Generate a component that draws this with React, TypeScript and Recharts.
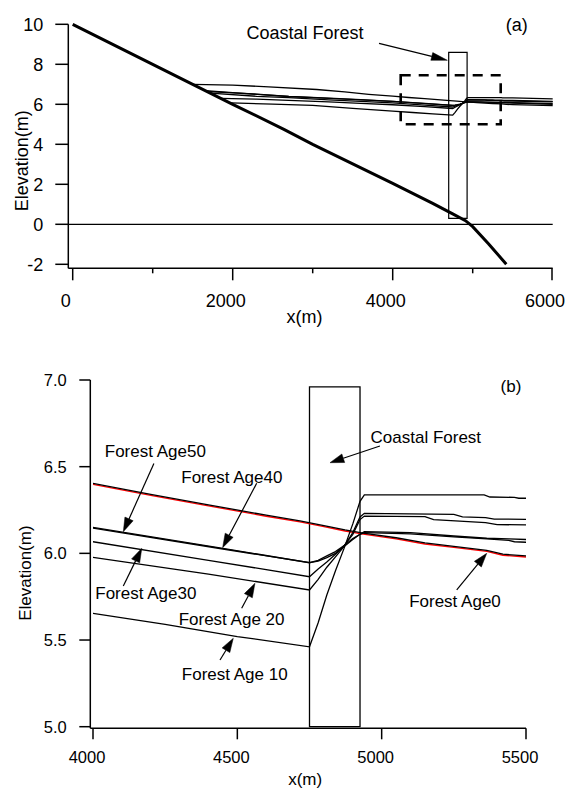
import React from "react";
import {
  LineChart,
  Line,
  XAxis,
  YAxis,
  ReferenceLine,
  ReferenceArea,
  ReferenceDot
} from "recharts";

type Pt = [number, number];

const FONT = '"Liberation Sans", Arial, Helvetica, sans-serif';

// axis ticks
const ticksAY = [-2, 0, 2, 4, 6, 8, 10];
const ticksAX = [0, 1000, 2000, 3000, 4000, 5000, 6000];
const majorAX = [0, 2000, 4000, 6000];
const ticksBY = [5, 5.5, 6, 6.5, 7];
const ticksBX = [4000, 4500, 5000, 5500];

// initial beach / bed profile
const bathymetry: Pt[] = [
  [0, 10], [1000, 8.0], [2000, 6.0], [2640, 4.75], [3000, 4.0], [4000, 2.05],
  [4500, 1.05], [4750, 0.52], [4910, 0.18], [5000, -0.12], [5200, -0.98], [5420, -2.0]
];

// water surface profiles for each forest age
const age0: Pt[] = [
  [1500, 7.0], [2000, 6.96], [2450, 6.87], [3050, 6.74], [3400, 6.62], [3700, 6.5],
  [4000, 6.404], [4200, 6.34], [4400, 6.28], [4600, 6.22], [4717, 6.187], [4800, 6.16],
  [4873, 6.135], [4936, 6.117], [5050, 6.09], [5150, 6.06], [5250, 6.04], [5364, 6.017],
  [5420, 5.995], [5500, 5.985], [6000, 5.93]
];
const age0Red: Pt[] = [
  [4000, 6.398], [4200, 6.334], [4400, 6.274], [4600, 6.214], [4717, 6.181], [4800, 6.154],
  [4873, 6.129], [4936, 6.111], [5050, 6.084], [5150, 6.054], [5250, 6.034], [5364, 6.011],
  [5420, 5.989], [5500, 5.979]
];
const age10: Pt[] = [
  [1980, 6.07], [2500, 6.01], [3000, 5.95], [3500, 5.8], [4000, 5.654], [4250, 5.59],
  [4500, 5.52], [4750, 5.461], [4780, 5.6], [4810, 5.76], [4840, 5.9], [4870, 6.03],
  [4900, 6.17], [4925, 6.3], [4940, 6.337], [5355, 6.337], [5375, 6.325], [5460, 6.323],
  [5475, 6.318], [5500, 6.318], [6000, 6.27]
];
const age20: Pt[] = [
  [1850, 6.3], [2300, 6.26], [2700, 6.2], [3200, 6.12], [3600, 6.05], [4000, 5.977],
  [4400, 5.88], [4750, 5.789], [4780, 5.85], [4810, 5.92], [4840, 5.98], [4870, 6.04],
  [4900, 6.12], [4925, 6.21], [4940, 6.231], [5250, 6.225], [5280, 6.21], [5360, 6.206],
  [5390, 6.198], [5500, 6.196], [6000, 6.15]
];
const age30: Pt[] = [
  [1720, 6.56], [2300, 6.4], [2700, 6.33], [3200, 6.22], [3600, 6.15], [4000, 6.067],
  [4400, 5.96], [4750, 5.865], [4780, 5.91], [4810, 5.95], [4840, 5.995], [4870, 6.045],
  [4900, 6.11], [4925, 6.195], [4940, 6.215], [5150, 6.212], [5180, 6.195], [5360, 6.177],
  [5400, 6.166], [5500, 6.164], [6000, 6.12]
];
const age40: Pt[] = [
  [1680, 6.64], [2000, 6.57], [2300, 6.5], [2700, 6.39], [3200, 6.3], [3600, 6.22],
  [4000, 6.145], [4450, 6.025], [4750, 5.946], [4780, 5.955], [4810, 5.975], [4840, 6.0],
  [4870, 6.04], [4900, 6.08], [4925, 6.11], [4940, 6.125], [5100, 6.12], [5250, 6.1],
  [5364, 6.087], [5440, 6.083], [5500, 6.08], [6000, 6.03]
];
const age50: Pt[] = [
  [1660, 6.68], [2000, 6.58], [2300, 6.51], [2700, 6.4], [3200, 6.31], [3600, 6.23],
  [4000, 6.15], [4450, 6.029], [4750, 5.946], [4780, 5.96], [4810, 5.985], [4840, 6.01],
  [4870, 6.045], [4900, 6.085], [4925, 6.11], [4940, 6.119], [5100, 6.112], [5250, 6.095],
  [5364, 6.083], [5440, 6.075], [5460, 6.067], [5500, 6.064], [6000, 6.0]
];

const profiles = [age0, age10, age20, age30, age40, age50];

// annotations (data coordinates)
const forestA = { x1: 4700, x2: 4930, y1: 0.3, y2: 8.6 };
const zoomBoxA = { x1: 4100, x2: 5350, y1: 5.0, y2: 7.45 };
const forestB = { x1: 4750, x2: 4925, y1: 5.0, y2: 6.96 };

const textsA = [
  { text: "Coastal Forest", x: 2904, y: 9.57 },
  { text: "(a)", x: 5550, y: 10.0 }
];
const arrowsA: { from: Pt; to: Pt }[] = [{ from: [3829, 9.05], to: [4683, 8.2] }];

const textsB = [
  { text: "Coastal Forest", x: 5153, y: 6.671 },
  { text: "Forest Age50", x: 4216, y: 6.593 },
  { text: "Forest Age40", x: 4481, y: 6.44 },
  { text: "Forest Age30", x: 4183, y: 5.771 },
  { text: "Forest Age 20", x: 4480, y: 5.623 },
  { text: "Forest Age 10", x: 4491, y: 5.305 },
  { text: "Forest Age0", x: 5254, y: 5.726 },
  { text: "(b)", x: 5448, y: 6.967 }
];
const arrowsB: { from: Pt; to: Pt }[] = [
  { from: [4994, 6.619], to: [4821, 6.523] },
  { from: [4211, 6.519], to: [4105, 6.125] },
  { from: [4567, 6.404], to: [4449, 6.033] },
  { from: [4105, 5.812], to: [4169, 6.029] },
  { from: [4515, 5.683], to: [4561, 5.827] },
  { from: [4440, 5.385], to: [4486, 5.51] },
  { from: [5260, 5.789], to: [5364, 6.0] }
];

const toRows = (pts: Pt[]) => pts.map(([x, y]) => ({ x, y }));

function Arrow(p: any) {
  const { x1, y1, x2, y2, head, half } = p;
  if (x1 == null || x2 == null) return null;
  const ang = Math.atan2(y2 - y1, x2 - x1);
  const bx = x2 - head * Math.cos(ang);
  const by = y2 - head * Math.sin(ang);
  const nx = -Math.sin(ang) * half;
  const ny = Math.cos(ang) * half;
  return (
    <g>
      <line x1={x1} y1={y1} x2={bx} y2={by} stroke="#000" strokeWidth={1.2} />
      <polygon
        points={`${x2},${y2} ${bx + nx},${by + ny} ${bx - nx},${by - ny}`}
        fill="#000"
        stroke="#000"
        strokeWidth={0.5}
      />
    </g>
  );
}

function TickA(p: any) {
  const { x, y, payload } = p;
  const major = majorAX.includes(payload.value);
  return (
    <g>
      <line x1={x} y1={y} x2={x} y2={y + (major ? 12 : 5)} stroke="#000" strokeWidth={1.5} />
      {major && (
        <text x={x - 7} y={y + 26} dy="0.71em" textAnchor="middle" fontSize={18} fill="#000">
          {payload.value}
        </text>
      )}
    </g>
  );
}

const axisStroke = { stroke: "#000", strokeWidth: 1.5 };

function PanelA() {
  return (
    <LineChart width={568} height={335} margin={{ top: 24.3, right: 15.3, bottom: 6.7, left: 8.3 }}>
      <XAxis
        type="number"
        dataKey="x"
        domain={[0, 6000]}
        ticks={ticksAX}
        padding={{ left: 4.4, right: 0 }}
        tickSize={0}
        tickMargin={0}
        tickLine={false}
        tick={<TickA />}
        axisLine={axisStroke}
        height={60}
        label={{ value: "x(m)", position: "insideBottom", offset: 5, dx: -6, fontSize: 18, fill: "#000" }}
      />
      <YAxis
        type="number"
        domain={[-2, 10]}
        ticks={ticksAY}
        padding={{ top: 0, bottom: 4 }}
        width={60}
        tickSize={13}
        tickMargin={12}
        tickLine={axisStroke}
        axisLine={axisStroke}
        tick={{ fill: "#000", fontSize: 18 }}
        label={{
          value: "Elevation(m)",
          angle: -90,
          position: "insideLeft",
          offset: 13.4,
          dy: 14.5,
          fontSize: 18,
          fill: "#000",
          style: { textAnchor: "middle" }
        }}
      />
      <ReferenceLine y={0} stroke="#000" strokeWidth={1.2} />
      <ReferenceArea {...forestA} fill="none" stroke="#000" strokeWidth={1.2} ifOverflow="visible" />
      <ReferenceArea
        {...zoomBoxA}
        fill="none"
        stroke="#000"
        strokeWidth={2.6}
        strokeDasharray="10 8"
        ifOverflow="visible"
      />
      <Line
        data={toRows(bathymetry)}
        dataKey="y"
        type="linear"
        stroke="#000"
        strokeWidth={3}
        dot={false}
        isAnimationActive={false}
      />
      {profiles.map((pts, i) => (
        <Line
          key={i}
          data={toRows(pts)}
          dataKey="y"
          type="linear"
          stroke="#000"
          strokeWidth={1.3}
          dot={false}
          isAnimationActive={false}
        />
      ))}
      {arrowsA.map((a, i) => (
        <ReferenceLine
          key={"aa" + i}
          segment={[{ x: a.from[0], y: a.from[1] }, { x: a.to[0], y: a.to[1] }]}
          ifOverflow="visible"
          shape={(p: any) => <Arrow {...p} head={16} half={4} />}
        />
      ))}
      {textsA.map((t, i) => (
        <ReferenceDot
          key={"ta" + i}
          x={t.x}
          y={t.y}
          r={0}
          fill="none"
          stroke="none"
          ifOverflow="visible"
          label={{ value: t.text, position: "center", fontSize: 18, fill: "#000" }}
        />
      ))}
    </LineChart>
  );
}

function PanelB() {
  return (
    <LineChart width={568} height={455} margin={{ top: 45, right: 42, bottom: 3.7, left: 30.3 }}>
      <XAxis
        type="number"
        dataKey="x"
        domain={[4000, 5500]}
        ticks={ticksBX}
        allowDataOverflow
        padding={{ left: 2.7, right: 0 }}
        tickSize={11}
        tickMargin={12.4}
        tickLine={axisStroke}
        axisLine={axisStroke}
        tick={{ fill: "#000", fontSize: 16.5, dx: -6 }}
        height={58}
        label={{ value: "x(m)", position: "insideBottom", offset: 1.8, dx: -3, fontSize: 17, fill: "#000" }}
      />
      <YAxis
        type="number"
        domain={[5, 7]}
        ticks={ticksBY}
        allowDataOverflow
        tickFormatter={(v: number) => v.toFixed(1)}
        padding={{ top: 0, bottom: 1.6 }}
        width={60}
        tickSize={11}
        tickMargin={12.6}
        tickLine={axisStroke}
        axisLine={axisStroke}
        tick={{ fill: "#000", fontSize: 16.5 }}
        label={{
          value: "Elevation(m)",
          angle: -90,
          position: "insideLeft",
          offset: -5.3,
          dy: 19,
          fontSize: 17,
          fill: "#000",
          style: { textAnchor: "middle" }
        }}
      />
      <ReferenceArea {...forestB} fill="none" stroke="#000" strokeWidth={1.3} ifOverflow="visible" />
      <Line
        data={toRows(age0Red)}
        dataKey="y"
        type="linear"
        stroke="#ff0000"
        strokeWidth={1.3}
        dot={false}
        isAnimationActive={false}
      />
      {profiles.map((pts, i) => (
        <Line
          key={i}
          data={toRows(pts)}
          dataKey="y"
          type="linear"
          stroke="#000"
          strokeWidth={1.3}
          dot={false}
          isAnimationActive={false}
        />
      ))}
      {arrowsB.map((a, i) => (
        <ReferenceLine
          key={"ab" + i}
          segment={[{ x: a.from[0], y: a.from[1] }, { x: a.to[0], y: a.to[1] }]}
          ifOverflow="visible"
          shape={(p: any) => <Arrow {...p} head={14} half={4.5} />}
        />
      ))}
      {textsB.map((t, i) => (
        <ReferenceDot
          key={"tb" + i}
          x={t.x}
          y={t.y}
          r={0}
          fill="none"
          stroke="none"
          ifOverflow="visible"
          label={{ value: t.text, position: "center", fontSize: 17, fill: "#000" }}
        />
      ))}
    </LineChart>
  );
}

export default function App() {
  return (
    <div
      style={{
        position: "absolute",
        left: 0,
        top: 0,
        width: 568,
        height: 790,
        background: "#fff",
        fontFamily: FONT
      }}
    >
      <div style={{ position: "absolute", left: 0, top: 0 }}>
        <PanelA />
      </div>
      <div style={{ position: "absolute", left: 0, top: 335 }}>
        <PanelB />
      </div>
    </div>
  );
}
